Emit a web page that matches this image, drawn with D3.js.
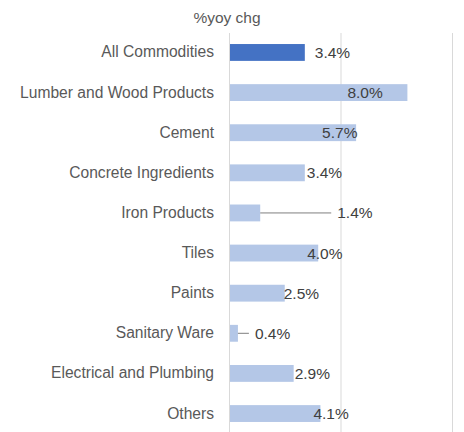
<!DOCTYPE html>
<html>
<head>
<meta charset="utf-8">
<script src="https://cdn.jsdelivr.net/npm/d3@7"></script>
<style>
  html, body { margin: 0; padding: 0; background: #fff; }
  #chart { width: 464px; height: 432px; }
</style>
</head>
<body>
<div id="chart"></div>
<script>
// chart data
var categories = [
  "All Commodities", "Lumber and Wood Products", "Cement", "Concrete Ingredients",
  "Iron Products", "Tiles", "Paints", "Sanitary Ware", "Electrical and Plumbing", "Others"
];
var yoyChange = [3.4, 8.0, 5.7, 3.4, 1.4, 4.0, 2.5, 0.4, 2.9, 4.1];
var xTicks = [0, 5, 10];
var axisTitle = "%yoy chg";

// label nudges (px from bar end) — the source labels were dragged around by hand,
// two of them with leader lines back to the bar
var labelDx = [10, -60, -34, 2, 77, -11, -1, 17, 1, -7];
var hasLeader = [false, false, false, false, true, false, false, true, false, false];

(function () {
  var W = 464, H = 432;
  var font = "Liberation Sans, Arial, sans-serif";
  var dark = "#4472c4", light = "#b4c7e7", grid = "#d9d9d9", txt = "#595959";

  var svg = d3.select("#chart").append("svg").attr("width", W).attr("height", H);

  var x = d3.scaleLinear().domain([0, 10]).range([229, 452]);
  var y = d3.scaleBand().domain(categories).range([32, 434]).paddingInner(0.58).paddingOuter(0.3);

  // vertical gridlines (0 doubles as the category axis)
  svg.append("g").selectAll("line").data(xTicks).enter().append("line")
    .attr("x1", function (d) { return x(d) + 0.5; })
    .attr("x2", function (d) { return x(d) + 0.5; })
    .attr("y1", 33).attr("y2", H)
    .attr("stroke", grid).attr("stroke-width", 1);

  svg.append("text").attr("x", 227).attr("y", 23).attr("text-anchor", "middle")
    .attr("font-family", font).attr("font-size", "15.5px").attr("fill", txt).text(axisTitle);

  var rows = categories.map(function (c, i) { return { cat: c, v: yoyChange[i], i: i }; });

  svg.append("g").selectAll("rect").data(rows).enter().append("rect")
    .attr("x", x(0) + 1)
    .attr("y", function (d) { return y(d.cat); })
    .attr("width", function (d) { return x(d.v) - x(0) - 1; })
    .attr("height", y.bandwidth())
    .attr("fill", function (d) { return d.i === 0 ? dark : light; });

  // category labels
  svg.append("g").selectAll("text").data(rows).enter().append("text")
    .attr("x", 214)
    .attr("y", function (d) { return y(d.cat) + y.bandwidth() / 2 + 5; })
    .attr("text-anchor", "end")
    .attr("font-family", font).attr("font-size", "15.6px").attr("fill", txt)
    .text(function (d) { return d.cat; });

  // leader lines
  svg.append("g").selectAll("line").data(rows.filter(function (d) { return hasLeader[d.i]; }))
    .enter().append("line")
    .attr("x1", function (d) { return x(d.v); })
    .attr("x2", function (d) { return x(d.v) + labelDx[d.i] - 6; })
    .attr("y1", function (d) { return y(d.cat) + y.bandwidth() / 2; })
    .attr("y2", function (d) { return y(d.cat) + y.bandwidth() / 2; })
    .attr("stroke", "#7f7f7f").attr("stroke-width", 1);

  // value labels
  svg.append("g").selectAll("text").data(rows).enter().append("text")
    .attr("x", function (d) { return x(d.v) + labelDx[d.i]; })
    .attr("y", function (d) { return y(d.cat) + y.bandwidth() / 2 + 5.5; })
    .attr("font-family", font).attr("font-size", "15.5px").attr("fill", "#404040")
    .text(function (d) { return d.v.toFixed(1) + "%"; });
})();
</script>
</body>
</html>
